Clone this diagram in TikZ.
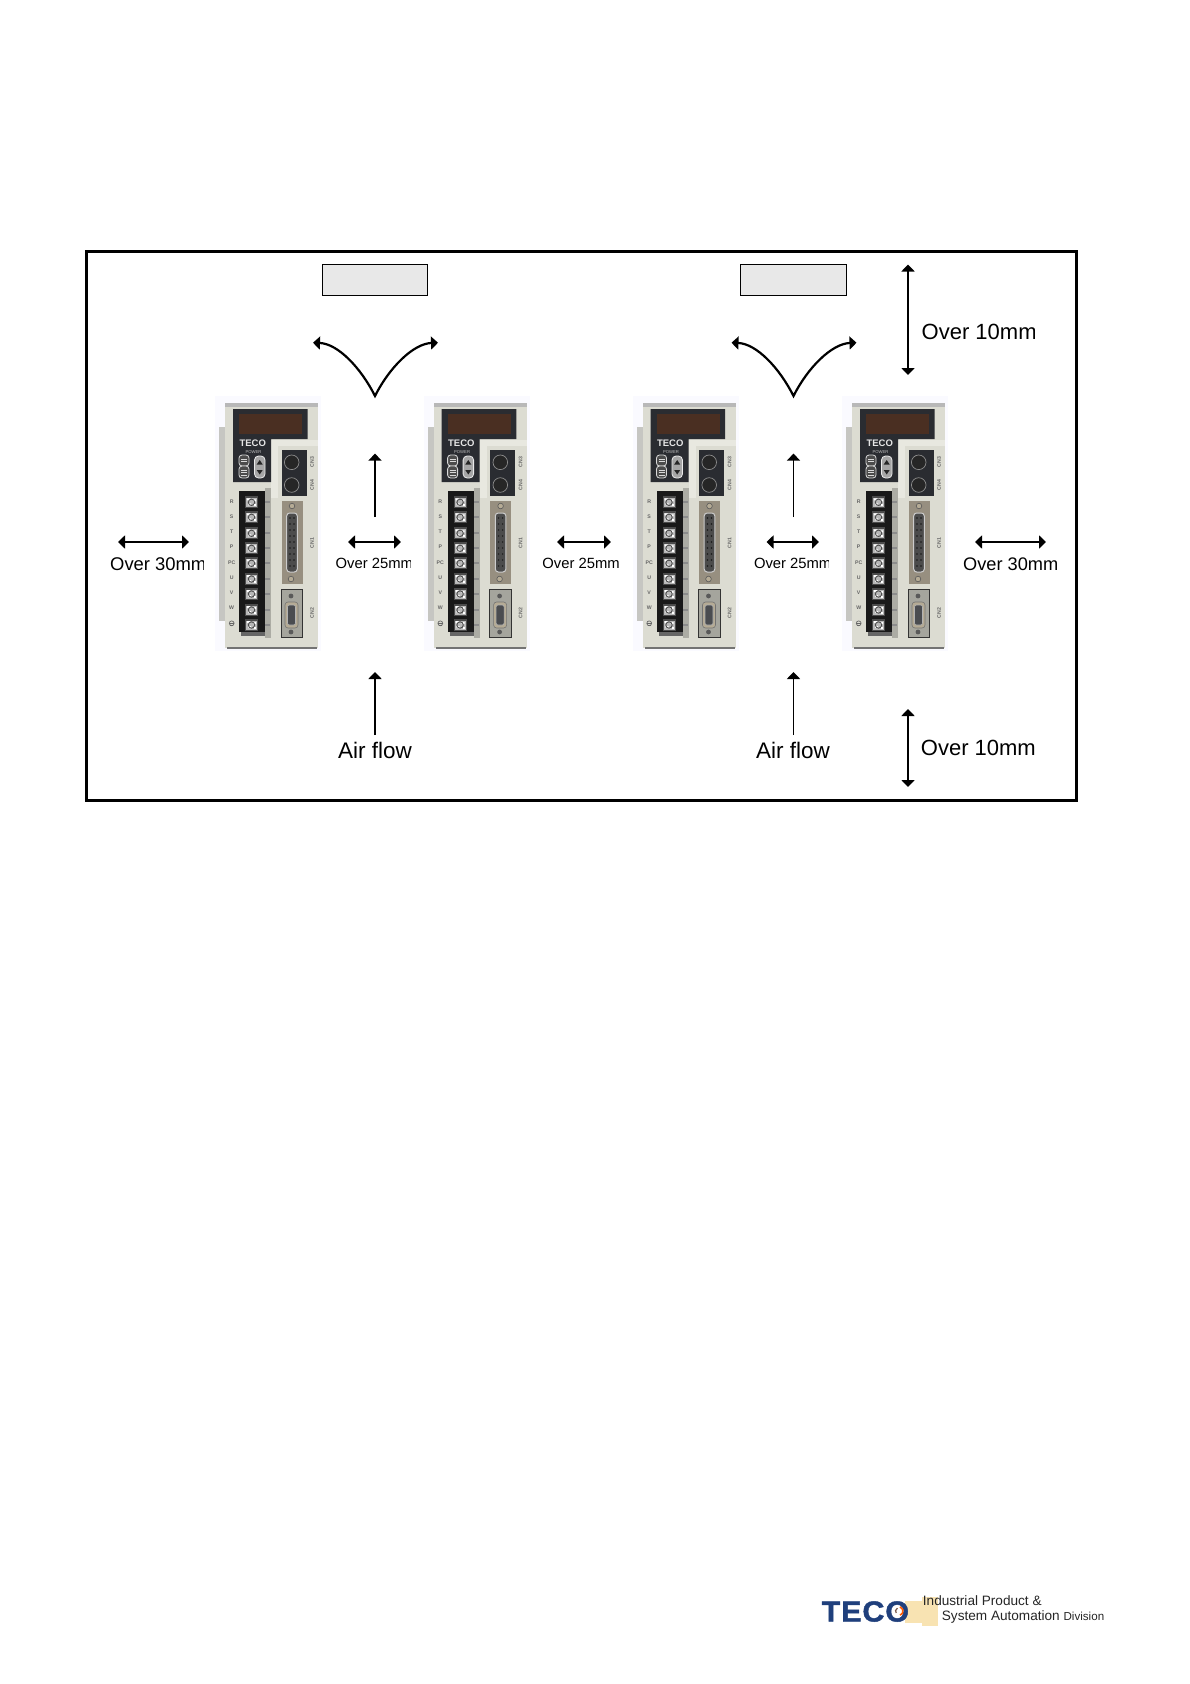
\documentclass[tikz,border=0pt]{standalone}
\usepackage{fontspec}
\setmainfont{Liberation Sans}
\usetikzlibrary{arrows.meta,calc}
\definecolor{bodyc}{HTML}{DCDCD2}
\definecolor{bodyl}{HTML}{E8E8E0}
\definecolor{sidec}{HTML}{C6C6C2}
\definecolor{darkc}{HTML}{2A2C31}
\definecolor{winc}{HTML}{4A2F22}
\definecolor{panelc}{HTML}{978F80}
\definecolor{tanc}{HTML}{B5AB95}
\definecolor{tecob}{HTML}{1F3F7C}
\definecolor{patchc}{HTML}{F8E3B2}
\tikzset{
 frameb/.style={draw=black,line width=2.8pt,fill=white},
 greybox/.style={draw=black,line width=1.1pt,fill=black!9},
 dimarrow/.style={line width=1.8pt,{Triangle[length=7pt,width=13pt]}-{Triangle[length=7pt,width=13pt]}},
 uparrow/.style={line width=1.8pt,-{Triangle[length=7pt,width=13pt]}},
 curved/.style={line width=2.2pt,{Triangle[length=7pt,width=13pt]}-{Triangle[length=7pt,width=13pt]}},
 lab/.style={anchor=base west,inner sep=0pt,text=black},
 plab/.style={inner sep=0pt,text=black!60,font=\fontsize{5.2}{5.2}\selectfont\bfseries},
}
\newcommand\lbl[6]{% name,x,baseline,rightedge,size,text
 \begin{scope}\clip (#2-2,#3-30) rectangle (#4,#3+10);
 \node[lab,font=\fontsize{#5}{#5}\selectfont] (#1) at (#2,#3) {#6};
 \end{scope}}
\newcommand\servo[2]{%
\begin{scope}[shift={(#2,380)}]
 \fill[blue!2] (15,16) rectangle (121,271);
 \fill[sidec] (19,47) rectangle (26,241);
 \fill[bodyc] (25,23) rectangle (118,268);
 \fill[black!28] (25,23) rectangle (118,27);
 \fill[black!55] (27,267) rectangle (117,268.5);
 \fill[bodyl] (71,60) rectangle (118,66);
 \fill[bodyl] (71,60) rectangle (78,118);
 \fill[darkc] (33,29) -- (107.7,29) -- (107.7,59) -- (71,59) -- (71,102) -- (33,102) -- cycle;
 \fill[winc] (39,34) rectangle (102,54);
 \node[inner sep=0pt,text=white!90!black,font=\fontsize{9.5}{9.5}\selectfont\bfseries] (#1teco) at (52.7,63) {TECO};
 \node[inner sep=0pt,text=black!25,font=\fontsize{4.2}{4.2}\selectfont] (#1pw) at (53.5,71.7) {POWER};
 \draw[draw=black!15,fill=black!70,line width=.8pt,rounded corners=3pt] (39,75) rectangle (49,86);
 \draw[draw=black!15,fill=black!70,line width=.8pt,rounded corners=3pt] (39,86) rectangle (49,98);
 \draw[black!15,line width=.6pt] (41,90) -- (47,90) (41,92.5) -- (47,92.5) (41,95) -- (47,95) (41,79) -- (47,79) (41,81.5) -- (47,81.5);
 \draw[draw=black!8,fill=black!35,line width=.8pt,rounded corners=4pt] (54.5,76) rectangle (65,98);
 \fill[black!85] (59.7,80) -- (56.7,84.5) -- (62.7,84.5) -- cycle (59.7,94.5) -- (56.7,90) -- (62.7,90) -- cycle;
 \fill[darkc] (81.7,70) rectangle (106.7,116);
 \foreach \yy in {82.3,105} {\draw[draw=black!45,fill=black!85,line width=.7pt] (91.7,\yy) circle (7.3pt);}
 \fill[panelc] (81.7,120.7) rectangle (102.7,203.5);
 \draw[draw=black!20,fill=black!70,line width=1pt,rounded corners=3pt] (86.7,133) rectangle (97.3,192);
 \foreach \yy in {138,144,...,188} {\fill[black!90] (90,\yy) circle (.8pt) (94,\yy) circle (.8pt);}
 \draw[draw=black!65,fill=tanc,line width=.6pt] (92,126) circle (2.8pt);
 \draw[draw=black!65,fill=tanc,line width=.6pt] (91,199) circle (2.8pt);
 \draw[draw=black!80,fill=black!25!bodyc,line width=1pt] (81.3,209.5) rectangle (102.5,257);
 \draw[draw=black!55,fill=tanc,line width=.6pt,rounded corners=3pt] (85,222) rectangle (98,248);
 \draw[draw=black!30,fill=darkc!85,line width=.6pt,rounded corners=2pt] (87.5,225) rectangle (95.5,245);
 \fill[black!65] (91,216) circle (2.4pt) (91,252) circle (2.4pt);
 \fill[black!8!bodyc!85!black] (65,108) rectangle (71,258);
 \fill[black!90] (39,111) rectangle (65,252);
 \fill[black!60] (41,252) rectangle (65,256);
 \foreach \yy in {122.3,137.3,153.3,168.3,183.3,199,214,230,245} {
  \fill[black!70] (45,\yy-6) rectangle (58,\yy+6);
  \fill[black!28] (46,\yy-4.5) rectangle (57,\yy+4.5);
  \fill[white] (47,\yy-4) rectangle (50,\yy-2) (53,\yy-3) rectangle (56,\yy-1) (48,\yy+1) rectangle (51,\yy+3);
  \draw[black!70,line width=.9pt] (51.5,\yy) circle (3.2pt);
  \fill[white] (54,\yy+1.5) rectangle (56,\yy+3.5);
  \fill[black!45] (65,\yy-1) rectangle (70,\yy+1);
 }
 \foreach \lb/\yy in {R/121.7,S/137,T/152,P/166.7,PC/182.3,U/197.7,V/212.3,W/228}
  \node[plab] (#1t\lb) at (31.7,\yy) {\lb};
 \draw[black!60,line width=.7pt] (31.7,243.3) circle (2.4pt);
 \draw[black!60,line width=.5pt] (29.5,243.3) -- (33.9,243.3) (30.2,244.8) -- (33.2,244.8);
 \foreach \lb/\yy in {CN3/82,CN4/105,CN1/163,CN2/233}
  \node[plab,rotate=90] (#1c\lb) at (112,\yy) {\lb};
\end{scope}}
\begin{document}
\begin{tikzpicture}[x=1pt,y=-1pt]
\useasboundingbox (0,0) rectangle (1190,1684);
\fill[white] (0,0) rectangle (1190,1684);
\node[frameb,minimum width=990pt,minimum height=549pt,inner sep=0pt,anchor=north west] (frame) at (85,250) {};
\node[greybox,minimum width=105.5pt,minimum height=31.3pt,inner sep=0pt] (boxa) at (375,279.7) {};
\node[greybox,minimum width=105.5pt,minimum height=31.3pt,inner sep=0pt] (boxb) at (793.5,279.7) {};
\servo{a}{200}
\servo{b}{408.6}
\servo{c}{617.5}
\servo{d}{827}
% curved outflow arrows
\foreach \n/\cx in {a/375,b/793.5} {
 \coordinate (\n L) at (\cx-62,342.7);
 \coordinate (\n R) at (\cx+63,342.7);
 \coordinate (\n V) at (\cx,396);
 \draw[curved] (\n L) .. controls ($(\n L)+(25,1)$) and ($(\n V)+(-14,-28)$) .. (\n V)
    .. controls ($(\n V)+(14,-28)$) and ($(\n R)+(-25,1)$) .. (\n R);
 \coordinate (\n ua) at (\cx,517); \coordinate (\n ub) at (\cx,453.6);
 \draw[uparrow] (\n ua) -- (\n ub);
 \coordinate (\n da) at (\cx,735); \coordinate (\n db) at (\cx,672);
 \draw[uparrow] (\n da) -- (\n db);
}
% clearance arrows
\foreach \n/\xa/\xb in {h1/118/189,h2/348/401,h3/557/611,h4/766.5/819,h5/975/1046} {
 \coordinate (\n a) at (\xa,542); \coordinate (\n b) at (\xb,542);
 \draw[dimarrow] (\n a) -- (\n b);
}
\coordinate (v1a) at (908,264.5); \coordinate (v1b) at (908,375);
\draw[dimarrow] (v1a) -- (v1b);
\coordinate (v2a) at (908,709); \coordinate (v2b) at (908,787);
\draw[dimarrow] (v2a) -- (v2b);
% labels
\lbl{o30a}{110}{570.5}{203.5}{18.4}{Over 30mm}
\lbl{o25a}{335.5}{568}{410.5}{14.8}{Over 25mm}
\lbl{o25b}{542.2}{568}{618}{14.8}{Over 25mm}
\lbl{o25c}{753.8}{568}{828.5}{14.8}{Over 25mm}
\lbl{o30b}{963}{570.5}{1057}{18.2}{Over 30mm}
\lbl{o10a}{921.5}{339}{1034.5}{22}{Over 10mm}
\lbl{o10b}{920.7}{755}{1034.5}{22}{Over 10mm}
\node[lab,font=\fontsize{22.5}{22.5}\selectfont] (afa) at (338,758) {Air flow};
\node[lab,font=\fontsize{22.5}{22.5}\selectfont] (afb) at (756,758) {Air flow};
% footer logo
\fill[patchc] (905,1601) rectangle (936,1622.5);
\fill[patchc] (922,1597) rectangle (938,1626);
\node[lab,font=\fontsize{29}{29}\selectfont\bfseries,text=tecob] (logo) at (821.5,1621.5) {\addfontfeature{LetterSpace=3,FakeBold=1.5}\scalebox{1.05}[1]{TECO}};
\fill[white] (898.5,1611) circle (5pt);
\draw[orange!70!red,line width=1.6pt] (898.5,1611) ++(-70:4.5pt) arc (-70:70:4.5pt);
\draw[tecob!60!orange,line width=1.2pt] (898.5,1611) ++(110:3pt) arc (110:220:3pt);
\node[lab,font=\fontsize{13.6}{14}\selectfont,text=black!85] (ipa) at (922.7,1605.5) {Industrial Product \&};
\node[lab,font=\fontsize{13.6}{14}\selectfont,text=black!85] (ipb) at (941.7,1620.5) {System Automation \fontsize{11.6}{12}\selectfont Division};
\end{tikzpicture}
\end{document}
